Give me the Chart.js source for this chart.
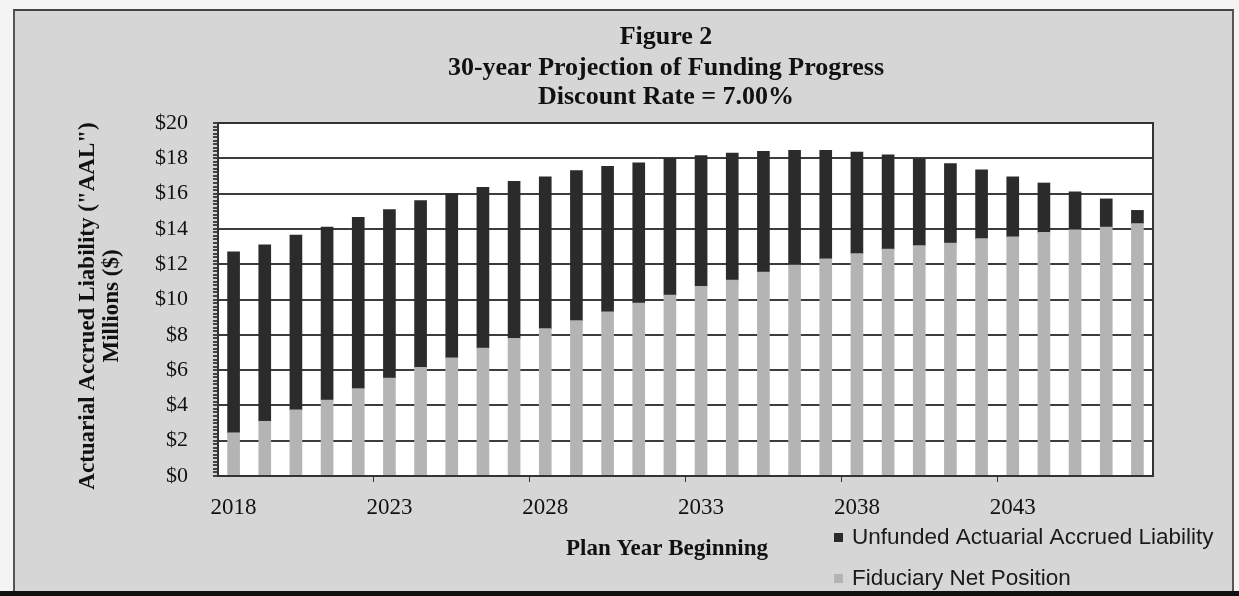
<!DOCTYPE html>
<html>
<head>
<meta charset="utf-8">
<script src="https://cdn.jsdelivr.net/npm/chart.js@4.4.1/dist/chart.umd.min.js"></script>
<style>
  html, body { margin:0; padding:0; background:#f4f4f4; }
  #wrap { position:relative; width:1239px; height:596px; overflow:hidden; }
  #frame { position:absolute; left:13px; top:9px; width:1221px; height:583px; box-sizing:border-box;
           border-left:2px solid #555; border-top:2px solid #444; border-right:2px solid #555; background:#d6d6d6; }
  #band { position:absolute; left:0; top:591px; width:1239px; height:5px; background:#111; }
  #c { position:absolute; left:0; top:0; }
</style>
</head>
<body>
<div id="wrap">
  <div id="frame"></div>
  <div id="band"></div>
  <canvas id="c" width="1239" height="596"></canvas>
</div>
<script>
const years = ['2018','2019','2020','2021','2022','2023','2024','2025','2026','2027','2028','2029','2030','2031','2032','2033','2034','2035','2036','2037','2038','2039','2040','2041','2042','2043','2044','2045','2046','2047'];
const fiduciaryNetPosition = [2.45,3.1,3.75,4.3,4.95,5.55,6.15,6.7,7.25,7.8,8.35,8.8,9.3,9.8,10.25,10.75,11.1,11.55,11.95,12.3,12.6,12.85,13.05,13.2,13.45,13.55,13.8,13.95,14.1,14.3];
const unfundedAAL = [10.25,10.0,9.9,9.8,9.7,9.55,9.45,9.3,9.1,8.9,8.6,8.5,8.25,7.95,7.75,7.4,7.2,6.85,6.5,6.15,5.75,5.35,4.9,4.5,3.9,3.4,2.8,2.15,1.6,0.75];
const titleLines = ['Figure 2','30-year Projection of Funding Progress','Discount Rate = 7.00%'];
const yTitleLines = ['Actuarial Accrued Liability ("AAL")','Millions ($)'];
const xTitle = 'Plan Year Beginning';
const seriesNames = ['Unfunded Actuarial Accrued Liability','Fiduciary Net Position'];

const DARK = '#2b2b2b', LIGHT = '#b4b4b4', GRID = '#3c3c3c';

const textPlugin = {
  id: 'texts',
  beforeDraw(chart) {
    const {ctx, chartArea:a} = chart;
    ctx.save();
    ctx.fillStyle = '#ffffff';
    ctx.fillRect(a.left, a.top, a.right - a.left, a.bottom - a.top);
    ctx.restore();
  },
  afterDraw(chart) {
    const {ctx, chartArea:a} = chart;
    ctx.save();
    ctx.strokeStyle = '#333';
    ctx.lineWidth = 2;
    ctx.strokeRect(a.left, a.top, a.right - a.left, a.bottom - a.top);
    ctx.fillStyle = '#111';
    ctx.textAlign = 'center';
    ctx.textBaseline = 'middle';
    ctx.font = 'bold 26px "Liberation Serif", serif';
    const ty = [37, 68, 97];
    titleLines.forEach((t,i) => ctx.fillText(t, 666, ty[i]));
    ctx.font = 'bold 23px "Liberation Serif", serif';
    ctx.fillText(xTitle, 667, 549);
    // y title
    const yx = [88, 112];
    yTitleLines.forEach((t,i) => {
      ctx.save();
      ctx.translate(yx[i], 306);
      ctx.rotate(-Math.PI/2);
      ctx.fillText(t, 0, 0);
      ctx.restore();
    });
    // legend
    ctx.textAlign = 'left';
    ctx.font = '22.5px "Liberation Sans", Arial, sans-serif';
    const ly = [538, 579];
    const cols = [DARK, LIGHT];
    seriesNames.forEach((n,i) => {
      ctx.fillStyle = cols[i];
      ctx.fillRect(834, ly[i]-5, 9, 9);
      ctx.fillStyle = '#1a1a1a';
      ctx.fillText(n, 852, ly[i]);
    });
    ctx.restore();
  }
};

new Chart(document.getElementById('c'), {
  type: 'bar',
  data: {
    labels: years,
    datasets: [
      { label: seriesNames[1], data: fiduciaryNetPosition, backgroundColor: LIGHT, barThickness: 12 },
      { label: seriesNames[0], data: unfundedAAL, backgroundColor: DARK, barThickness: 12 }
    ]
  },
  options: {
    responsive: false,
    devicePixelRatio: 1,
    animation: false,
    layout: { padding: { left: 0, right: 86, top: 123, bottom: 0 } },
    plugins: { legend: { display: false }, title: { display: false }, tooltip: { enabled: false } },
    scales: {
      x: {
        stacked: true,
        afterFit(s) { s.height = 120; },
        grid: {
          offset: true,
          drawOnChartArea: false,
          tickLength: 6,
          tickColor: (c) => (c.index % 5 === 0 && c.index > 0) ? '#333' : 'rgba(0,0,0,0)'
        },
        border: { display: true, color: '#333', width: 2 },
        ticks: {
          autoSkip: false,
          maxRotation: 0,
          padding: 12,
          color: '#111',
          font: { family: '"Liberation Serif", serif', size: 23 },
          callback: (v, i) => (i % 5 === 0) ? years[i] : ''
        }
      },
      y: {
        stacked: true,
        min: 0, max: 20,
        afterFit(s) { s.width = 218; },
        grid: {
          color: (c) => (Math.round(c.tick.value * 10) % 20 === 0) ? GRID : 'rgba(0,0,0,0)',
          lineWidth: 2,
          tickLength: 5,
          tickColor: '#444'
        },
        border: { display: true, color: '#333', width: 2 },
        ticks: {
          stepSize: 0.2,
          autoSkip: false,
          padding: 25,
          color: '#111',
          font: { family: '"Liberation Serif", serif', size: 22 },
          callback: (v) => (Math.round(v * 10) % 20 === 0) ? '$' + Math.round(v) : ''
        }
      }
    }
  },
  plugins: [textPlugin]
});
</script>
</body>
</html>
